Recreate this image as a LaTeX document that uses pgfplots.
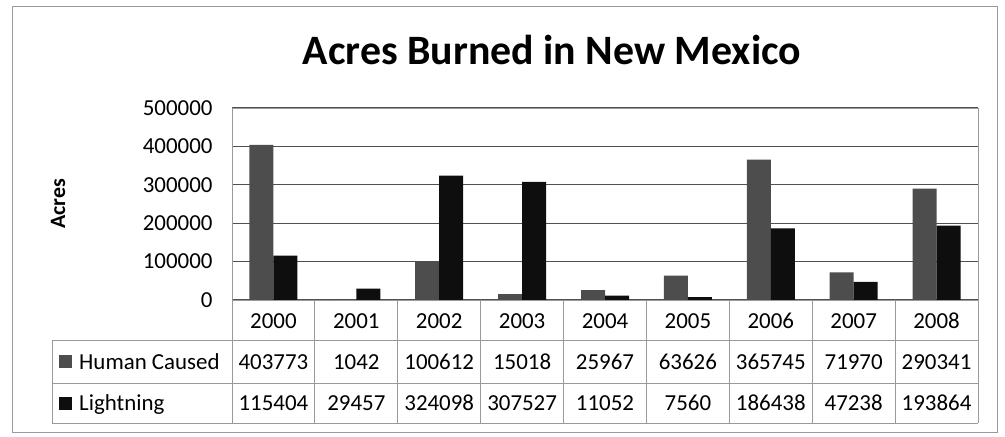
\documentclass[border=0pt]{standalone}
\usepackage{fontspec}
\setmainfont{Carlito}
\usepackage{pgfplots}
\usepackage{pgfplotstable}
\pgfplotsset{compat=1.18}
\definecolor{humanc}{HTML}{4D4D4D}
\definecolor{lightc}{HTML}{0E0E0E}
\definecolor{gridc}{HTML}{505050}
\definecolor{framec}{HTML}{9A9A9A}
\newcommand{\tablefont}{\fontsize{23}{27}\selectfont}

\pgfplotstableread{
x year human lightning
0 2000 403773 115404
1 2001 1042 29457
2 2002 100612 324098
3 2003 15018 307527
4 2004 25967 11052
5 2005 63626 7560
6 2006 365745 186438
7 2007 71970 47238
8 2008 290341 193864
}\data

\begin{document}
\begin{tikzpicture}
\begin{scope}[x=1bp,y=1bp]
\path[use as bounding box] (0,0) rectangle (1005,437);
\draw[framec, line width=1bp] (12,4) rectangle (997,430);
\end{scope}
\begin{axis}[
  name=ax,
  at={(232bp,137bp)}, anchor=south west,
  scale only axis, width=746bp, height=192bp,
  xmin=-0.5, xmax=8.5, ymin=0, ymax=500000,
  ytick={0,100000,200000,300000,400000,500000},
  xtick={0,1,2,3,4,5,6,7,8},
  xticklabels={2000,2001,2002,2003,2004,2005,2006,2007,2008},
  scaled y ticks=false,
  /pgf/number format/assume math mode=true,
  yticklabel={\pgfmathprintnumber[fixed,precision=0,1000 sep={}]{\tick}},
  yticklabel style={font=\fontsize{23}{27}\selectfont, xshift=-16bp},
  xticklabel style={font=\tablefont, anchor=base, yshift=-28.5bp},
  major tick length=0pt,
  ymajorgrids, grid style={gridc, line width=1.1bp},
  axis line style={framec, line width=0.9bp},
  clip=false,
  title={Acres Burned in New Mexico},
  title style={font=\fontsize{42}{50}\selectfont\bfseries, at={(rel axis cs:0.429,1)}, anchor=base, yshift=38bp},
  ylabel={Acres},
  ylabel style={font=\fontsize{22}{26}\selectfont\bfseries, at={(rel axis cs:0,0.5)}, anchor=center, yshift=174bp},
]
\addplot[ybar, bar width=24bp, bar shift=-12bp, fill=humanc, draw=none] table[x=x, y=human] {\data};
\addplot[ybar, bar width=24bp, bar shift=12bp, fill=lightc, draw=none] table[x=x, y=lightning] {\data};
\addplot[only marks, mark=text, text mark={}, point meta=explicit,
  nodes near coords={\pgfmathprintnumber[fixed,precision=0,1000 sep={}]{\pgfplotspointmeta}},
  every node near coord/.append style={anchor=base, yshift=-69.5bp, font=\tablefont, text=black}]
  table[x=x, y expr=0, meta=human] {\data};
\addplot[only marks, mark=text, text mark={}, point meta=explicit,
  nodes near coords={\pgfmathprintnumber[fixed,precision=0,1000 sep={}]{\pgfplotspointmeta}},
  every node near coord/.append style={anchor=base, yshift=-111bp, font=\tablefont, text=black}]
  table[x=x, y expr=0, meta=lightning] {\data};
\end{axis}
\begin{scope}[x=1bp,y=1bp]
\draw[gridc, line width=1bp] (232,137) -- (232,108);
\draw[framec, line width=0.9bp] (52,97) -- (978,97);
\draw[framec, line width=0.9bp] (52,54) -- (978,54);
\draw[framec, line width=0.9bp] (52,14) -- (978,14);
\draw[framec, line width=0.9bp] (52,97) -- (52,14);
\foreach \k in {0,...,9} {
  \draw[framec, line width=0.9bp] ({232+\k*82.889},137) -- ({232+\k*82.889},14);
}
\fill[humanc] (59,69) rectangle (72,82);
\fill[lightc] (59,27) rectangle (72,40);
\node[anchor=base west, font=\tablefont, inner sep=0pt] at (79,67.5) {Human Caused};
\node[anchor=base west, font=\tablefont, inner sep=0pt] at (79,26) {Lightning};
\end{scope}
\end{tikzpicture}
\end{document}
